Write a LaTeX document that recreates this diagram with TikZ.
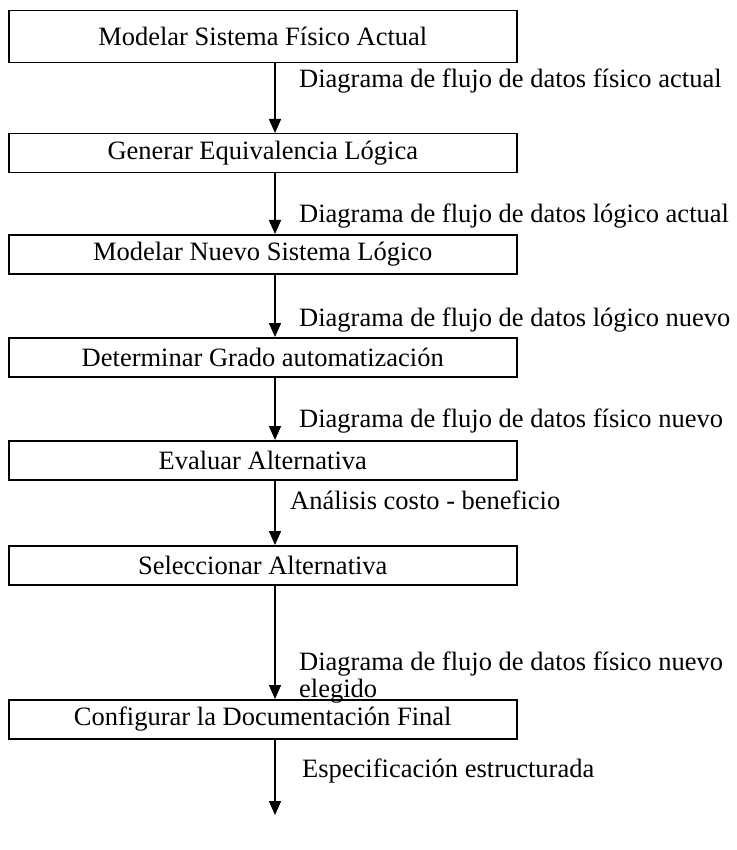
\documentclass[tikz,border=0pt]{standalone}
\usepackage{fontspec}
\setmainfont{Liberation Serif}
\usetikzlibrary{arrows.meta}
\begin{document}
\begin{tikzpicture}[x=1pt,y=-1pt,
  proc/.style={draw,line width=1.5pt,minimum width=508pt,minimum height=39pt,
    inner sep=0pt,font=\fontsize{26.5}{30}\selectfont,anchor=north west},
  flow/.style={line width=1.5pt,-{Triangle[length=14pt,width=12pt]}},
  lbl/.style={anchor=west,inner sep=0pt,font=\fontsize{26.5}{27}\selectfont,align=left}]
\useasboundingbox (0,0) rectangle (736,850);
% process boxes
\node[proc,minimum height=52pt] (b1) at (8,10) {Modelar Sistema Físico Actual};
\node[proc] (b2) at (8,133) {Generar Equivalencia Lógica};
\node[proc] (b3) at (8,234) {Modelar Nuevo Sistema Lógico};
\node[proc] (b4) at (8,337) {Determinar Grado automatización};
\node[proc] (b5) at (8,440) {Evaluar Alternativa};
\node[proc] (b6) at (8,545) {Seleccionar Alternativa};
\node[proc] (b7) at (8,699) {Configurar la Documentación Final};
% data flows between the steps
\coordinate (end) at (275,815);
\draw[flow] (b1.south -| end) -- (b2.north -| end);
\draw[flow] (b2.south -| end) -- (b3.north -| end);
\draw[flow] (b3.south -| end) -- (b4.north -| end);
\draw[flow] (b4.south -| end) -- (b5.north -| end);
\draw[flow] (b5.south -| end) -- (b6.north -| end);
\draw[flow] (b6.south -| end) -- (b7.north -| end);
\draw[flow] (b7.south -| end) -- (end);
% flow labels
\node[lbl] (l1) at (299,81) {Diagrama de flujo de datos físico actual};
\node[lbl] (l2) at (299,216) {Diagrama de flujo de datos lógico actual};
\node[lbl] (l3) at (299,320) {Diagrama de flujo de datos lógico nuevo};
\node[lbl] (l4) at (299,421) {Diagrama de flujo de datos físico nuevo};
\node[lbl] (l5) at (290,500) {Análisis costo - beneficio};
\node[lbl] (l6) at (299,678) {Diagrama de flujo de datos físico nuevo\\elegido};
\node[lbl] (l7) at (302,771) {Especificación estructurada};
\end{tikzpicture}
\end{document}
